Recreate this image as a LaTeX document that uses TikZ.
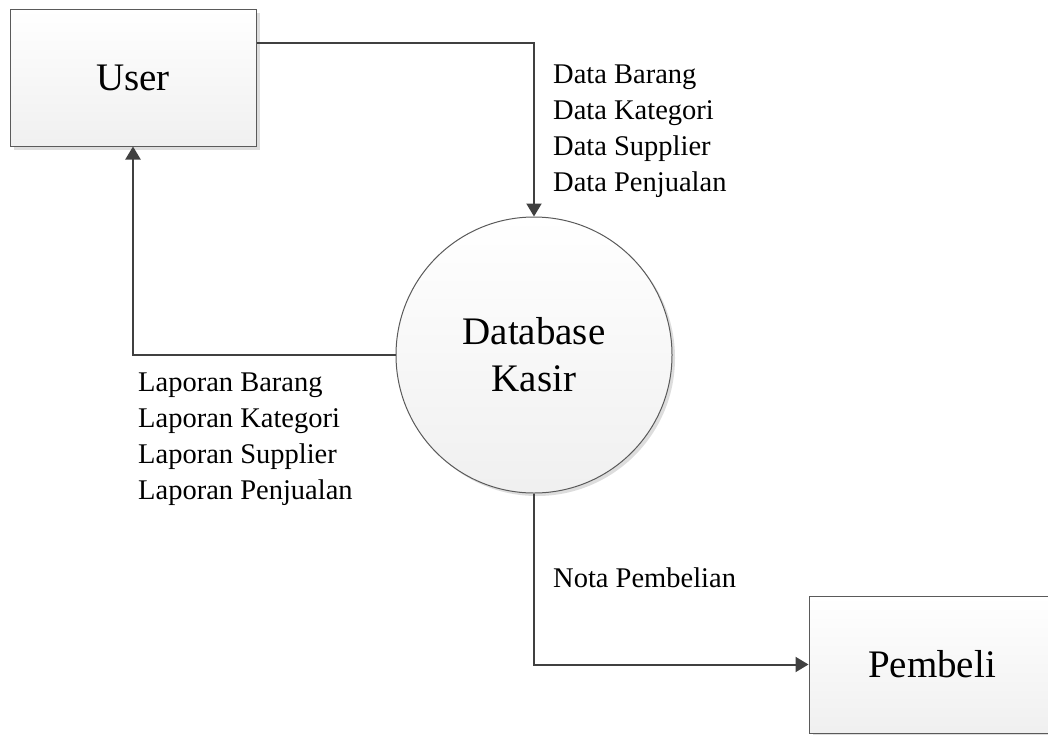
\documentclass[tikz,border=0pt]{standalone}
\usepackage{fontspec}
\setmainfont{Liberation Serif}
\usetikzlibrary{arrows.meta,shadows,calc}

\definecolor{edgegray}{HTML}{5A5A5A}
\definecolor{flowgray}{HTML}{404040}
\tikzset{
  entity/.style={rectangle,draw=edgegray,line width=1pt,top color=white,bottom color=gray!12,
    minimum width=246pt,minimum height=137pt,inner sep=0pt,
    drop shadow={shadow xshift=4pt,shadow yshift=-4pt,fill=gray!45,opacity=0.6},
    font=\fontsize{39}{47}\selectfont},
  process/.style={circle,draw=edgegray,line width=1pt,top color=white,bottom color=gray!12,
    minimum size=276pt,inner sep=0pt,align=center,
    drop shadow={shadow xshift=3pt,shadow yshift=-3pt,fill=gray!45,opacity=0.6},
    font=\fontsize{39}{47}\selectfont},
  flow/.style={draw=flowgray,line width=2pt,-{Triangle[length=13pt,width=15pt]}},
  lbl/.style={align=left,inner sep=0pt,anchor=west,font=\fontsize{28.5}{36}\selectfont}
}

\begin{document}
\begin{tikzpicture}[x=1pt,y=-1pt]
  \useasboundingbox (0,0) rectangle (1048,734);
  \clip (0,0) rectangle (1048,734);
  % external entities and the process
  \node[entity] (user) at (133,77.5) {User};
  \node[entity] (pembeli) at (932,664.5) {Pembeli};
  \node[process] (db) at (534,355) {Database\\Kasir};
  % data flows
  \draw[flow] ($(user.north east)!0.25!(user.south east)$) -| (db.north);
  \draw[flow] (db.west) -| (user.south);
  \draw[flow] (db.south) |- (pembeli.west);
  % flow labels
  \node[lbl] (datain) at (553,131) {Data Barang\\Data Kategori\\Data Supplier\\Data Penjualan};
  \node[lbl] (laporan) at (138,439.5) {Laporan Barang\\Laporan Kategori\\Laporan Supplier\\Laporan Penjualan};
  \node[lbl] (nota) at (553,578) {Nota Pembelian};
\end{tikzpicture}
\end{document}
